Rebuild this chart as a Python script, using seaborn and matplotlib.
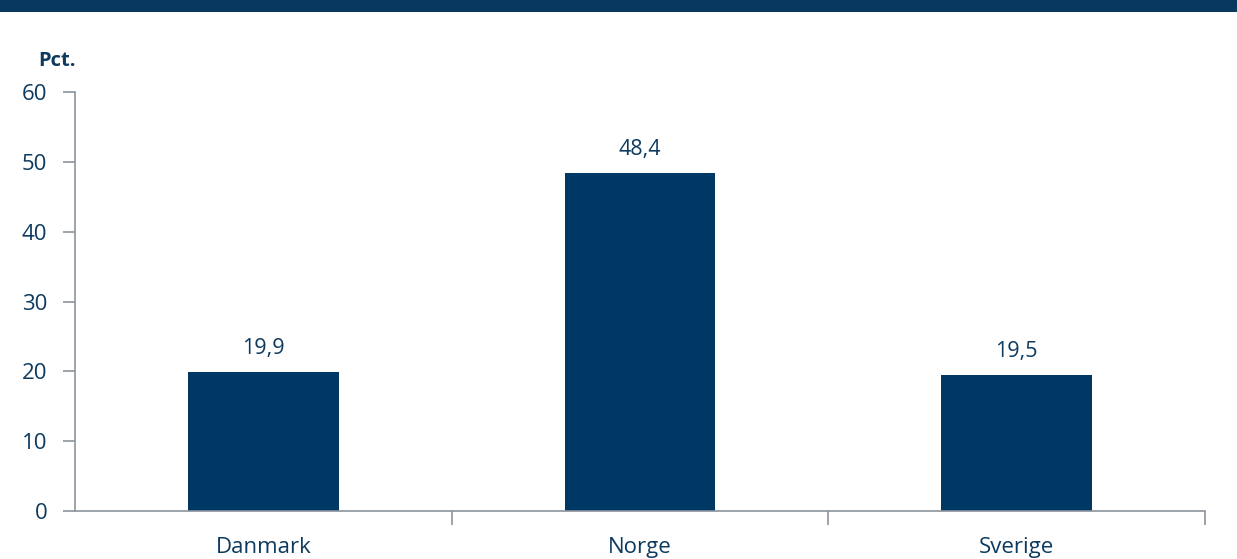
import matplotlib
matplotlib.use("Agg")
import matplotlib.pyplot as plt
import seaborn as sns
import pandas as pd
from matplotlib.patches import Rectangle

categories = ["Danmark", "Norge", "Sverige"]
values = [19.9, 48.4, 19.5]
labels = ["19,9", "48,4", "19,5"]

BAR = "#003865"
TXT = "#0D3A5E"
AX = "#8C939D"

sns.set_theme(style="white")
plt.rcParams["font.family"] = ["Open Sans", "DejaVu Sans"]

df = pd.DataFrame({"land": categories, "pct": values})

fig = plt.figure(figsize=(12.37, 5.59), dpi=100)
ax = fig.add_axes([75/1237, 1 - 511/559, 1130/1237, 419/559])

sns.barplot(data=df, x="land", y="pct", color=BAR, width=0.4, ax=ax, saturation=1)
for p in ax.patches:
    p.set_edgecolor("none")

ax.set_xlim(-0.5, 2.5)
ax.set_ylim(0, 60)
ax.set_yticks(range(0, 61, 10))
ax.set_xlabel("")
ax.set_ylabel("")

for i, (v, lab) in enumerate(zip(values, labels)):
    ax.text(i, v + 1.9, lab, ha="center", va="bottom", fontsize=15.5, color=TXT)

for s in ["top", "right"]:
    ax.spines[s].set_visible(False)
for s in ["left", "bottom"]:
    ax.spines[s].set_color(AX)
    ax.spines[s].set_linewidth(1.2)

ax.tick_params(axis="y", which="both", left=True, length=9, width=1.2, color=AX,
               labelsize=16, labelcolor=TXT, pad=11, direction="out")
ax.tick_params(axis="x", which="major", bottom=False, labelsize=16, labelcolor=TXT, pad=12.5)
ax.set_xticks([0, 1, 2], labels=categories)
ax.set_xticks([0.5, 1.5, 2.5], minor=True)
ax.tick_params(axis="x", which="minor", bottom=True, length=10, width=1.2, color=AX, direction="out")

fig.text(57/1237, 1 - 61/559, "Pct.", ha="center", va="center", fontsize=14.5,
         fontweight="bold", color=TXT)

fig.patches.append(Rectangle((0, 1 - 12/559), 1, 12/559, transform=fig.transFigure,
                             facecolor="#07385E", edgecolor="none", zorder=10))

fig.savefig("out.png", dpi=100)
